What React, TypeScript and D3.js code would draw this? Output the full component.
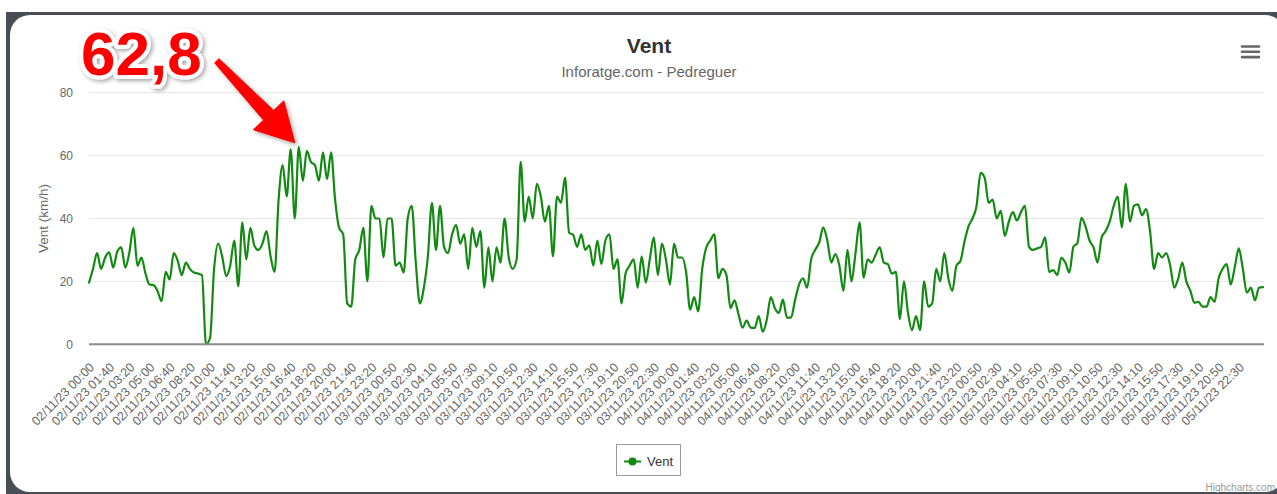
import React from "react";
import * as d3 from "d3";

// Wind readings, one every 20 minutes, km/h
const ventValues = [
  19.6, 24, 29, 24, 27.6, 29.2, 24.4, 29.5, 30.8, 24.4,
  29.2, 37, 25, 27.6, 22.5, 19, 18.8, 16.9, 13.7, 23,
  20.6, 29, 26.5, 22, 26, 24, 22.8, 22.5, 22, 0,
  2, 23.8, 32, 28, 21.7, 25, 33, 18.5, 38.8, 27,
  37, 31.3, 30, 32, 36, 28, 23, 46, 57, 47,
  62, 40, 62.8, 52, 61.5, 58, 57, 52, 61, 52.5,
  61, 46, 37, 35, 13, 12, 27, 30, 37, 20,
  44, 40, 40, 27.6, 40, 40, 25, 26, 22.8, 40,
  44, 26, 13, 18, 28, 45, 30, 44, 31, 29,
  35, 38, 32, 35, 24, 37, 31, 36, 18, 30.8,
  20, 30.8, 26, 40, 28, 24, 27, 58, 39, 47,
  40, 51, 47, 39, 44, 28, 47, 45, 53, 35.5,
  34.8, 31, 35, 30, 31.5, 25, 33, 25.5, 33, 35,
  24, 27, 13, 22.5, 25, 27, 18, 28, 19.6, 27,
  34, 22, 32, 27, 19, 32, 27.6, 27.6, 23, 11,
  15, 10.5, 24, 30.8, 33, 35, 21, 24, 22, 11.5,
  14, 9.5, 5.3, 7.5, 5.3, 5.2, 9, 4, 7.8, 15,
  11.5, 10, 14.2, 8.5, 8.5, 14, 19, 21, 18, 27,
  30, 32.4, 37.2, 33, 26, 28.7, 25, 17, 30, 20,
  29, 38.8, 21.2, 27, 26, 28.5, 30.8, 26, 25.5, 22.5,
  23, 8, 20, 10, 4.5, 9, 4.5, 20, 12, 13,
  24, 20, 29, 21, 17, 25, 26.5, 32.6, 37.5, 40,
  44, 54.5, 53, 45, 46, 40, 42.4, 34.5, 39, 42,
  39.4, 42, 44, 31, 30, 30.5, 31, 34, 23, 23.6,
  22, 27.5, 26, 22.8, 31, 32.2, 40.2, 37.5, 33, 30.8,
  26, 34, 36, 39, 44, 47, 37.2, 51, 39, 44,
  44.5, 41, 43, 36, 24, 29, 27.6, 29, 25, 18,
  21, 26, 20, 17, 13.2, 13.5, 12, 12, 15, 13.5,
  21, 24, 25.5, 19, 24.5, 30.5, 24, 16.4, 18, 14,
  18, 18.2,
];

// one label every 5 readings
const tickLabels = [
  "02/11/23 00:00", "02/11/23 01:40", "02/11/23 03:20", "02/11/23 05:00", "02/11/23 06:40",
  "02/11/23 08:20", "02/11/23 10:00", "02/11/23 11:40", "02/11/23 13:20", "02/11/23 15:00",
  "02/11/23 16:40", "02/11/23 18:20", "02/11/23 20:00", "02/11/23 21:40", "02/11/23 23:20",
  "03/11/23 00:50", "03/11/23 02:30", "03/11/23 04:10", "03/11/23 05:50", "03/11/23 07:30",
  "03/11/23 09:10", "03/11/23 10:50", "03/11/23 12:30", "03/11/23 14:10", "03/11/23 15:50",
  "03/11/23 17:30", "03/11/23 19:10", "03/11/23 20:50", "03/11/23 22:30",
  "04/11/23 00:00", "04/11/23 01:40", "04/11/23 03:20", "04/11/23 05:00", "04/11/23 06:40",
  "04/11/23 08:20", "04/11/23 10:00", "04/11/23 11:40", "04/11/23 13:20", "04/11/23 15:00",
  "04/11/23 16:40", "04/11/23 18:20", "04/11/23 20:00", "04/11/23 21:40", "04/11/23 23:20",
  "05/11/23 00:50", "05/11/23 02:30", "05/11/23 04:10", "05/11/23 05:50", "05/11/23 07:30",
  "05/11/23 09:10", "05/11/23 10:50", "05/11/23 12:30", "05/11/23 14:10", "05/11/23 15:50",
  "05/11/23 17:30", "05/11/23 19:10", "05/11/23 20:50", "05/11/23 22:30",
];
const tickStep = 5;

const yTicks = [0, 20, 40, 60, 80];
const peakValue = 62.8;
const peakLabel = "62,8";

const FONT = "'Liberation Sans', Arial, Helvetica, sans-serif";
const W = 1277;
const H = 494;
const GREEN = "#128a12";

export default function App() {
  const x = d3.scaleLinear().domain([0, ventValues.length - 1]).range([89, 1263]);
  const y = d3.scaleLinear().domain([0, 80]).range([344.3, 92.7]);

  const line = d3
    .line<number>()
    .x((_, i) => x(i))
    .y((d) => y(d))
    .curve(d3.curveMonotoneX);

  // arrow pointing at the peak
  const pi = ventValues.indexOf(peakValue);
  const tip = [x(pi) - 4, y(peakValue) - 4];
  const tail = [tip[0] - 78, tip[1] - 82];
  const dx = tip[0] - tail[0];
  const dy = tip[1] - tail[1];
  const len = Math.hypot(dx, dy);
  const u = [dx / len, dy / len];
  const n = [-u[1], u[0]];
  const headLen = 38;
  const base = [tip[0] - u[0] * headLen, tip[1] - u[1] * headLen];
  const pt = (p: number[], w: number) => [p[0] + n[0] * w, p[1] + n[1] * w];
  const arrowPts = [
    pt(tail, -3), pt(base, -7), pt(base, -21), tip, pt(base, 21), pt(base, 7), pt(tail, 3),
  ];

  return (
    <svg
      width={W}
      height={H}
      style={{ position: "absolute", left: 0, top: 0, fontFamily: FONT }}
    >
      <defs>
        <filter id="shadow" x="-20%" y="-20%" width="140%" height="140%">
          <feDropShadow dx="2" dy="2" stdDeviation="2" floodColor="#000" floodOpacity="0.35" />
        </filter>
      </defs>
      <rect width={W} height={H} fill="#fff" />
      <rect x={6} y={12} width={W} height={H} fill="#484d56" />
      <rect x={10} y={15} width={1275} height={477} rx={20} fill="#fff" />

      {/* titles */}
      <text x={649} y={53} textAnchor="middle" fontSize={21} fontWeight="bold" fill="#333">
        Vent
      </text>
      <text x={649} y={77} textAnchor="middle" fontSize={15} fill="#666">
        Inforatge.com - Pedreguer
      </text>

      {/* menu */}
      {[0, 1, 2].map((k) => (
        <line key={k} x1={1242} x2={1259} y1={46.5 + k * 5.3} y2={46.5 + k * 5.3}
          stroke="#666" strokeWidth={2.6} strokeLinecap="round" />
      ))}

      {/* grid */}
      {yTicks.filter((t) => t > 0).map((t) => (
        <line key={t} x1={89} x2={1264} y1={y(t)} y2={y(t)} stroke="#e6e6e6" strokeWidth={1} />
      ))}
      {yTicks.map((t) => (
        <text key={t} x={73} y={y(t) + 4.5} textAnchor="end" fontSize={12} fill="#666">
          {t}
        </text>
      ))}
      <text transform={`translate(48,${(y(0) + y(80)) / 2}) rotate(-90)`} textAnchor="middle"
        fontSize={13.5} fill="#666">
        Vent (km/h)
      </text>

      {/* series */}
      <path d={line(ventValues) || ""} fill="none" stroke={GREEN} strokeWidth={2.2}
        strokeLinejoin="round" strokeLinecap="round" />

      <line x1={89} x2={1264} y1={y(0)} y2={y(0)} stroke="#8c8c8c" strokeWidth={2} />

      {/* x labels */}
      {tickLabels.map((l, k) => {
        const tx = x(k * tickStep) + 6;
        const ty = 368;
        return (
          <text key={l} transform={`translate(${tx},${ty}) rotate(-45)`} textAnchor="end"
            fontSize={12.5} fill="#666">
            {l}
          </text>
        );
      })}

      {/* legend */}
      <rect x={616.5} y={444.5} width={64} height={31} fill="#fff" stroke="#999" strokeWidth={1} />
      <line x1={624} x2={641} y1={461.5} y2={461.5} stroke={GREEN} strokeWidth={2} />
      <circle cx={632.5} cy={461.5} r={4} fill={GREEN} />
      <text x={647} y={466} fontSize={13} fill="#333">Vent</text>

      <text x={1275} y={491} textAnchor="end" fontSize={10} fill="#999">Highcharts.com</text>

      {/* annotation */}
      <g filter="url(#shadow)">
        <polygon points={arrowPts.map((p) => p.join(",")).join(" ")} fill="#ff0000"
          stroke="#ff0000" strokeWidth={1} strokeLinejoin="round" />
      </g>
      <text x={81} y={75} fontSize={62} fontWeight="bold" fill="#ff0000" stroke="#fff"
        strokeWidth={8} strokeLinejoin="round" style={{ paintOrder: "stroke" }}
        filter="url(#shadow)">
        {peakLabel}
      </text>
    </svg>
  );
}
